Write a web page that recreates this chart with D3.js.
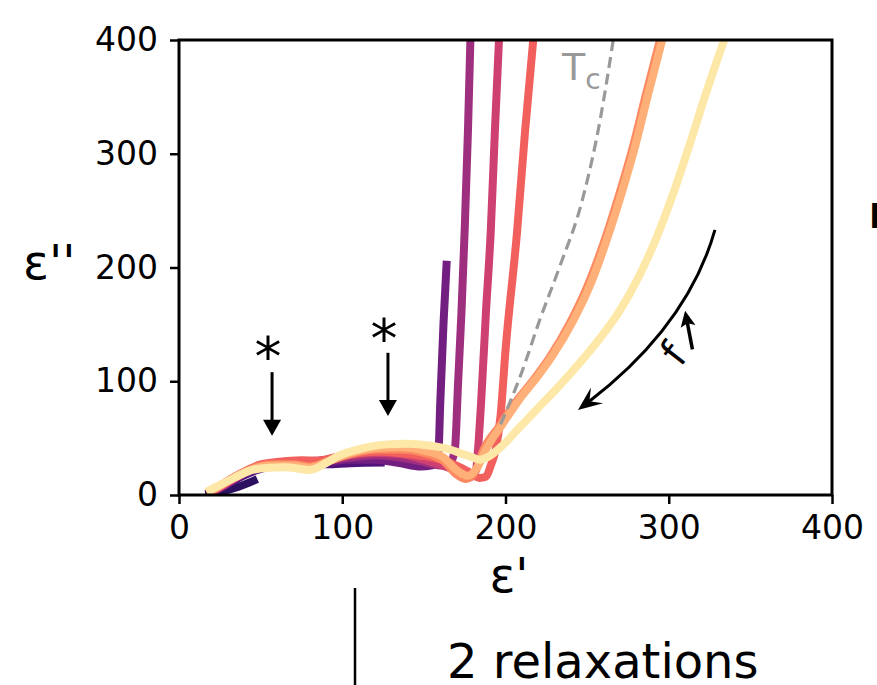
<!DOCTYPE html>
<html>
<head>
<meta charset="utf-8">
<script src="https://cdn.jsdelivr.net/npm/d3@7"></script>
<style>
body { margin: 0; background: #fff; }
text { font-family: "DejaVu Sans", sans-serif; }
</style>
</head>
<body>
<script>
// tick labels
var xTicks = [0, 100, 200, 300, 400];
var yTicks = [0, 100, 200, 300, 400];

// Cole-Cole curves, [eps', eps''], coldest (dark) to hottest (pale)
var s0 = [[16, 1], [26, 3], [36, 7], [48, 14]];
var s1 = [[18, 1], [28, 8], [38, 16], [48, 22], [60, 26], [75, 27], [90, 27], [105, 28], [126, 28.5]];
var s2 = [[18, 1], [28, 9], [38, 17], [48, 24], [60, 27], [75, 28], [90, 29], [105, 31], [120, 31], [135, 28], [148, 25], [155, 26], [159, 40], [160, 80], [162, 150], [164, 206]];
var s3 = [[18, 1], [28, 9], [38, 18], [48, 25], [60, 28], [75, 29], [90, 30], [105, 33], [120, 35], [135, 33], [150, 29], [160, 26], [166, 28], [169, 40], [171, 100], [173, 160], [175, 233], [177, 320], [178.5, 400]];
var s4 = [[18, 1], [28, 9], [38, 18], [48, 25], [60, 28.5], [75, 29.5], [90, 31], [105, 35], [120, 37], [135, 36], [150, 31], [165, 24], [172, 19], [179, 16], [182, 22], [183, 37], [185, 80], [188, 160], [191, 233], [193.5, 320], [196, 400]];
var s5 = [[18, 2], [26, 9], [34, 16], [42, 22], [50, 27], [60, 29], [75, 30.5], [85, 30], [95, 33], [110, 37], [125, 38], [140, 36], [155, 33], [168, 27], [178, 20], [184, 15], [188, 16], [191, 26], [194, 40], [197, 70], [200, 127], [207, 230], [212, 320], [217, 400]];
var s6 = [[17, 2], [25, 8], [32, 14], [40, 20], [48, 25], [58, 27], [70, 27], [80, 25], [92, 30], [105, 36], [120, 40], [135, 40], [150, 37], [162, 30], [170, 18], [176, 14], [182, 22], [186, 38], [196, 60], [207, 83], [217, 101], [227, 121], [239, 150], [250, 183], [262.8, 233], [270, 266], [278, 306], [286, 352], [294.6, 400]];
var s7 = [[17, 2], [25, 8], [32, 14], [40, 20], [48, 24], [58, 26], [70, 26], [80, 24], [92, 30], [105, 37], [120, 41], [135, 42], [150, 39], [162, 33], [170, 22], [177, 17], [183, 25], [188, 40], [198, 62], [209, 85], [219, 103], [229, 123], [241, 152], [252, 185], [264.5, 235], [271.5, 267], [279.5, 307], [287.5, 353], [296, 400]];
var s8 = [[17, 3], [24, 8], [31, 13], [38, 18], [45, 22], [55, 24], [65, 24.5], [80, 22], [90, 28], [97, 34], [107, 39], [117, 42.5], [128, 44.5], [140, 45], [150, 44], [158, 42.5], [166, 40], [172, 37], [178, 34], [184, 31], [190, 34], [197, 42], [209, 60], [221, 78], [233, 96], [246, 117], [258, 138], [270, 162], [282, 193], [293, 228], [303, 266], [313, 309], [323, 354], [334, 400]];
var seriesList = [s0, s1, s2, s3, s4, s5, s6, s7, s8];
var seriesColors = ["#2b1160", "#4f127b", "#721f81", "#9e2f7f", "#cd4071", "#f1605d", "#fc8961", "#feb078", "#fde8a8"];

// Tc guide line
var tcLine = [[197, 62], [210, 108], [221, 154], [233, 200], [247, 259], [258, 330], [266, 400]];

// asterisk annotations: [eps', star eps'', arrow start, arrow tip]
var starMarks = [[57, 127, 108, 52], [128, 142, 125, 69.5]];

// frequency arrow: start, control, end
var freqArc = [[328.3, 233], [311.5, 148.6], [244.4, 74.7]];
var freqSmall = [[314.5, 128], [310, 162]];

var W = 877, H = 685;
var margin = { left: 179, top: 40 };
var width = 653, height = 455;

var x = d3.scaleLinear().domain([0, 400]).range([0, width]);
var y = d3.scaleLinear().domain([0, 400]).range([height, 0]);

var svg = d3.select("body").append("svg").attr("width", W).attr("height", H);
var g = svg.append("g").attr("transform", "translate(" + margin.left + "," + margin.top + ")");

svg.append("defs").append("clipPath").attr("id", "plotclip")
    .append("rect").attr("width", width).attr("height", height);

var plot = g.append("g").attr("clip-path", "url(#plotclip)");

var line = d3.line()
    .x(function(d) { return x(d[0]); })
    .y(function(d) { return y(d[1]); })
    .curve(d3.curveMonotoneX);

seriesList.forEach(function(s, i) {
    plot.append("path")
        .attr("d", line(s))
        .attr("fill", "none")
        .attr("stroke", seriesColors[i])
        .attr("stroke-width", 8)
        .attr("stroke-linejoin", "round");
});

plot.append("path")
    .attr("d", line(tcLine))
    .attr("fill", "none")
    .attr("stroke", "#999")
    .attr("stroke-width", 3.2)
    .attr("stroke-dasharray", "11,6");

// axes
var xAxis = d3.axisBottom(x).tickValues(xTicks).tickSize(9).tickPadding(12);
var yAxis = d3.axisLeft(y).tickValues(yTicks).tickSize(9).tickPadding(12);

var gx = g.append("g").attr("transform", "translate(0," + height + ")").call(xAxis);
var gy = g.append("g").call(yAxis);
[gx, gy].forEach(function(a) {
    a.select(".domain").remove();
    a.selectAll(".tick line").attr("stroke", "#000").attr("stroke-width", 2.5);
    a.selectAll(".tick text").attr("font-size", 33).attr("fill", "#000")
        .style("font-family", "'DejaVu Sans', sans-serif");
});

g.append("rect")
    .attr("width", width).attr("height", height)
    .attr("fill", "none").attr("stroke", "#000").attr("stroke-width", 3);

// axis labels
svg.append("text").attr("x", 23).attr("y", 279)
    .attr("font-size", 48).text("ε''");
svg.append("text").attr("x", 509).attr("y", 592)
    .attr("text-anchor", "middle").attr("font-size", 48).text("ε'");

// Tc label
var tc = g.append("text").attr("x", x(234.6)).attr("y", y(364.8))
    .attr("font-size", 38).attr("fill", "#999");
tc.append("tspan").text("T");
tc.append("tspan").attr("font-size", 28).attr("dy", 9).text("c");

function arrowHead(sel, tip, ang, L, Wd, notch) {
    var c = Math.cos(ang), s = Math.sin(ang);
    var bx = tip[0] - L * c, by = tip[1] - L * s;
    var nx = tip[0] - notch * L * c, ny = tip[1] - notch * L * s;
    var pts = [tip, [bx - s * Wd / 2, by + c * Wd / 2], [nx, ny], [bx + s * Wd / 2, by - c * Wd / 2]];
    sel.append("polygon").attr("points", pts.map(function(p) { return p.join(","); }).join(" "))
        .attr("fill", "#000");
}

// asterisks and arrows
starMarks.forEach(function(m) {
    var px = x(m[0]);
    g.append("text").attr("x", px - 4).attr("y", y(m[1]) + 24)
        .attr("text-anchor", "middle").attr("font-size", 54).text("*");
    g.append("line").attr("x1", px).attr("x2", px)
        .attr("y1", y(m[2])).attr("y2", y(m[3]) - 12)
        .attr("stroke", "#000").attr("stroke-width", 3);
    arrowHead(g, [px, y(m[3])], Math.PI / 2, 16, 18, 1);
});

// frequency arc arrow
var p0 = [x(freqArc[0][0]), y(freqArc[0][1])];
var pc = [x(freqArc[1][0]), y(freqArc[1][1])];
var p2 = [x(freqArc[2][0]), y(freqArc[2][1])];
var arcAng = Math.atan2(p2[1] - pc[1], p2[0] - pc[0]);
var endArc = [p2[0] - 14 * Math.cos(arcAng), p2[1] - 14 * Math.sin(arcAng)];
g.append("path")
    .attr("d", "M" + p0 + "Q" + pc + " " + endArc)
    .attr("fill", "none").attr("stroke", "#000").attr("stroke-width", 3);
arrowHead(g, p2, arcAng, 24, 20, 0.6);

var q0 = [x(freqSmall[0][0]), y(freqSmall[0][1])];
var q1 = [x(freqSmall[1][0]), y(freqSmall[1][1])];
var smAng = Math.atan2(q1[1] - q0[1], q1[0] - q0[0]);
g.append("line")
    .attr("x1", q0[0]).attr("y1", q0[1])
    .attr("x2", q1[0] - 10 * Math.cos(smAng)).attr("y2", q1[1] - 10 * Math.sin(smAng))
    .attr("stroke", "#000").attr("stroke-width", 3.5);
arrowHead(g, q1, smAng, 16, 15, 0.8);

g.append("text")
    .attr("transform", "translate(" + x(303) + "," + y(124) + ") rotate(-52)")
    .attr("text-anchor", "middle").attr("dy", "0.35em")
    .attr("font-size", 40).text("f");

// neighbouring panel fragments
svg.append("line").attr("x1", 355).attr("x2", 355).attr("y1", 588).attr("y2", 685)
    .attr("stroke", "#000").attr("stroke-width", 2.5);
svg.append("text").attr("x", 447).attr("y", 678).attr("font-size", 48).text("2 relaxations");
svg.append("text").attr("x", 869).attr("y", 228).attr("font-size", 34)
    .attr("font-weight", "bold").text("I");
</script>
</body>
</html>
